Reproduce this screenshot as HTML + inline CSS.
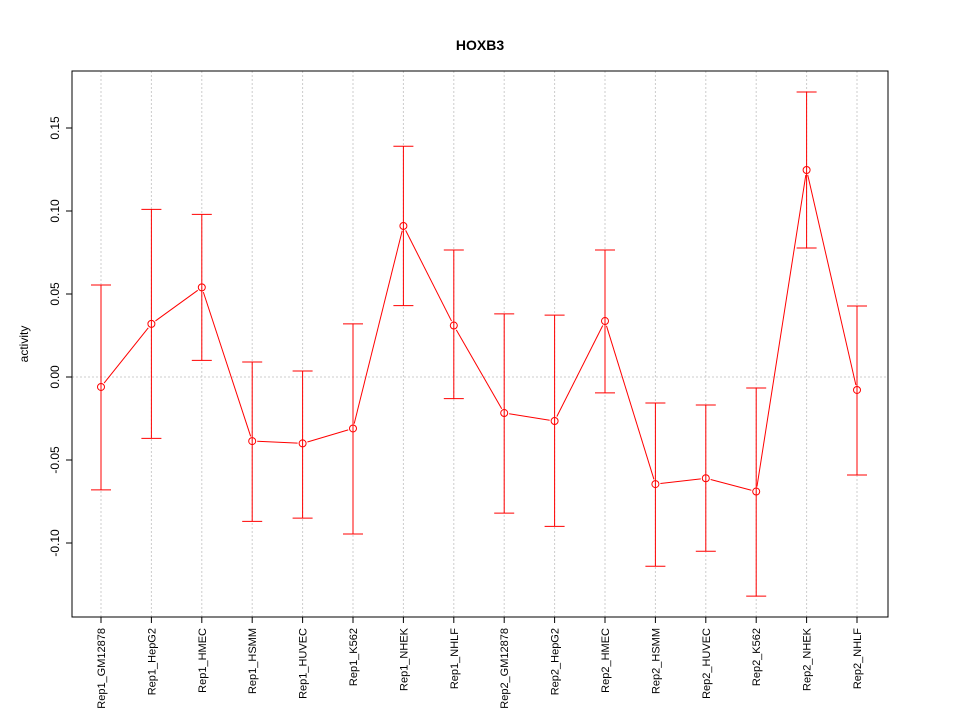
<!DOCTYPE html>
<html><head><meta charset="utf-8"><style>
body{margin:0;background:#fff;width:960px;height:720px;overflow:hidden}
text{font-family:"Liberation Sans",sans-serif}
</style></head><body>
<svg id="chart" width="960" height="720" xmlns="http://www.w3.org/2000/svg">
<text x="480" y="50" text-anchor="middle" font-size="14" font-weight="bold">HOXB3</text>
<text transform="translate(28,344) rotate(-90)" text-anchor="middle" font-size="12">activity</text>
<g id="grid"></g><g id="axes"></g><g id="marks"></g>
<rect x="72" y="71" width="816" height="546" fill="none" stroke="#000" stroke-width="1"/>
</svg>
<script>
const categories=["Rep1_GM12878","Rep1_HepG2","Rep1_HMEC","Rep1_HSMM","Rep1_HUVEC","Rep1_K562","Rep1_NHEK","Rep1_NHLF","Rep2_GM12878","Rep2_HepG2","Rep2_HMEC","Rep2_HSMM","Rep2_HUVEC","Rep2_K562","Rep2_NHEK","Rep2_NHLF"];
const values=[-0.006,0.032,0.054,-0.0386,-0.040,-0.031,0.091,0.031,-0.0217,-0.0265,0.0337,-0.0645,-0.061,-0.069,0.1247,-0.0078];
const upper=[0.0554,0.101,0.098,0.009,0.0036,0.032,0.139,0.0765,0.038,0.0373,0.0765,-0.0157,-0.0169,-0.0066,0.1717,0.0428];
const lower=[-0.068,-0.037,0.010,-0.087,-0.085,-0.0946,0.043,-0.013,-0.082,-0.090,-0.0096,-0.114,-0.105,-0.132,0.0777,-0.059];
const yTicks=[-0.10,-0.05,0.00,0.05,0.10,0.15];
const yTickLabels=["-0.10","-0.05","0.00","0.05","0.10","0.15"];
const NS="http://www.w3.org/2000/svg";
function X(i){return 101+i*(857-101)/(categories.length-1);}
function Y(v){return 377-v*1660;}
function mk(parent,tag,attrs){const e=document.createElementNS(NS,tag);for(const k in attrs)e.setAttribute(k,attrs[k]);document.getElementById(parent).appendChild(e);return e;}
// grid
categories.forEach((c,i)=>{const l=mk('grid','line',{x1:X(i),x2:X(i),y1:71,y2:617,stroke:'#ccc','stroke-dasharray':'2,2'});

});
const z=mk('grid','line',{x1:72,x2:888,y1:Y(0),y2:Y(0),stroke:'#ccc','stroke-dasharray':'2,2'});


// y axis
yTicks.forEach((v,i)=>{const t=mk('axes','line',{x1:66,x2:72,y1:Y(v),y2:Y(v),stroke:'#000'});


const tx=mk('axes','text',{transform:`translate(59,${Y(v)}) rotate(-90)`,'text-anchor':'middle','font-size':'12'});
tx.textContent=yTickLabels[i];

});
// x axis
categories.forEach((c,i)=>{const t=mk('axes','line',{x1:X(i),x2:X(i),y1:617,y2:623,stroke:'#000'});


const tx=mk('axes','text',{transform:`translate(${X(i)+4},628) rotate(-90)`,'text-anchor':'end','font-size':'11'});
tx.textContent=c;

});
// connecting lines
for(let i=0;i<values.length-1;i++){const x1=X(i),y1=Y(values[i]),x2=X(i+1),y2=Y(values[i+1]);const dx=x2-x1,dy=y2-y1,d=Math.hypot(dx,dy),r=5;
const l=mk('marks','line',{x1:x1+dx/d*r,y1:y1+dy/d*r,x2:x2-dx/d*r,y2:y2-dy/d*r,stroke:'#f00'});

}
values.forEach((v,i)=>{const x=X(i);
const e=mk('marks','path',{d:`M${x},${Y(upper[i])}V${Y(lower[i])}M${x-10},${Y(upper[i])}H${x+10}M${x-10},${Y(lower[i])}H${x+10}`,stroke:'#f00',fill:'none'});


const c=mk('marks','circle',{cx:x,cy:Y(v),r:3.5,stroke:'#f00',fill:'none'});

});
</script>
</body></html>
